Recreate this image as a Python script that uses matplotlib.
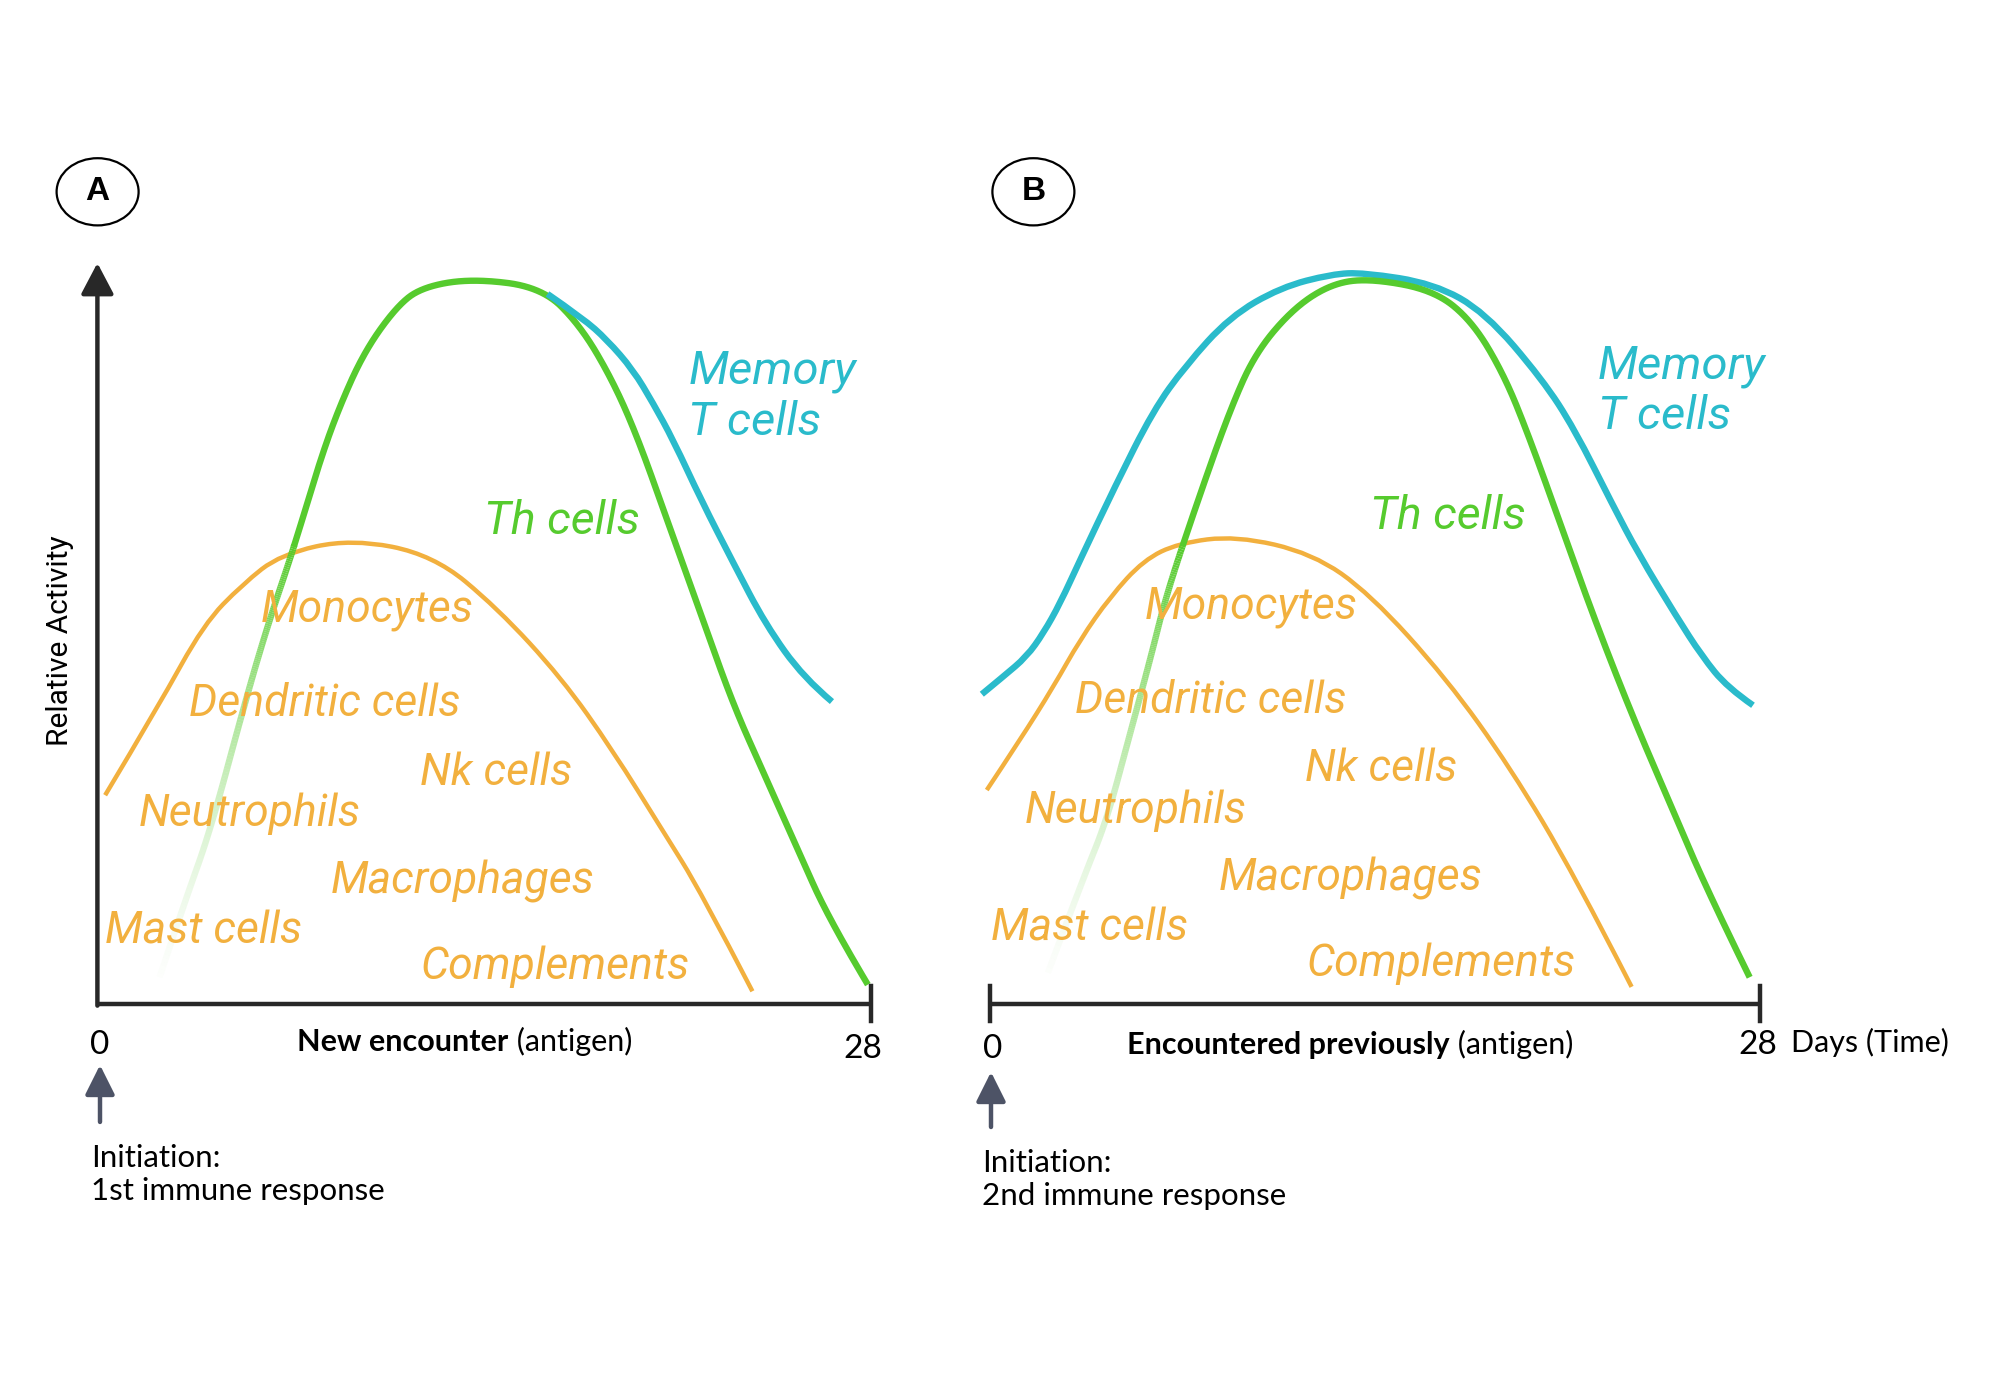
import numpy as np
import matplotlib
matplotlib.use("Agg")
import matplotlib.pyplot as plt
from matplotlib.path import Path
from matplotlib.patches import PathPatch, Ellipse, FancyArrowPatch
from matplotlib.collections import LineCollection
from matplotlib.colors import to_rgba

# ---- data (days 0-28, relative activity 0-100) ----
# panel A: new encounter
innate_a_x = [0.28, 2.23, 3.85, 5.25, 6.64, 9.19, 12.16, 14.48, 16.81, 18.66, 20.47, 21.87, 23.72]
innate_a_y = [28.3, 40.5, 51.5, 56.9, 61.0, 63.1, 60.9, 53.7, 44.2, 34.4, 23.5, 15.1, 1.7]
th_a_x = [2.25, 3.17, 4.09, 5.36, 6.17, 7.10, 8.02, 8.71, 9.64, 10.79, 11.72, 13.57, 16.1,
          17.49, 18.64, 19.57, 20.72, 21.88, 23.03, 24.19, 25.34, 26.5, 27.9]
th_a_y = [3.6, 13.9, 23.5, 41.1, 51.4, 61.7, 73.2, 80.5, 88.3, 94.4, 97.2, 98.4, 97.2,
          92.0, 84.7, 76.8, 64.7, 52.6, 40.5, 30.8, 21.1, 11.4, 2.6]
mem_a_x = [16.3, 17.58, 18.45, 19.4, 20.12, 20.85, 21.87, 23.03, 24.19, 25.58, 26.6]
mem_a_y = [96.3, 93.0, 90.1, 86.0, 81.5, 76.5, 68.3, 59.8, 51.5, 44.2, 41.0]

# panel B: encountered previously
innate_b_x = [-0.11, 1.1, 2.31, 3.28, 4.37, 5.59, 6.86, 8.95, 11.73, 13.82, 16.6, 18.92, 21.24, 23.32]
innate_b_y = [29.0, 35.8, 43.0, 49.4, 55.2, 60.2, 62.5, 63.5, 61.1, 55.6, 44.1, 32.0, 17.5, 2.3]
th_b_x = [2.11, 3.39, 4.25, 5.1, 5.82, 6.43, 7.56, 8.72, 9.65, 11.04, 12.43, 13.82, 16.14, 17.53,
          18.69, 19.61, 20.77, 21.93, 23.32, 24.71, 26.1, 27.61]
th_b_y = [4.2, 17.0, 24.9, 36.7, 46.6, 55.7, 68.3, 80.5, 88.3, 94.4, 97.7, 98.4, 96.8, 92.6,
          85.3, 76.8, 64.7, 52.6, 39.3, 27.2, 15.1, 3.6]
mem_b_x = [-0.29, 0.49, 1.34, 1.95, 2.55, 3.28, 4.55, 5.94, 7.10, 8.72, 10.57, 12.43, 13.59, 16.14,
           18.0, 20.08, 21.24, 22.63, 23.56, 24.94, 25.87, 26.8, 27.73]
mem_b_y = [42.0, 44.4, 47.1, 50.3, 54.3, 60.2, 70.2, 80.5, 86.5, 93.2, 97.2, 99.0, 99.2, 97.7,
           93.8, 84.7, 78.0, 67.7, 61.1, 52.6, 47.2, 42.9, 40.5]

innate_names = ["Monocytes", "Dendritic cells", "Nk cells", "Neutrophils",
                "Macrophages", "Mast cells", "Complements"]
innate_lab_a = [(5.9, 51.8), (3.3, 39.1), (11.7, 29.7), (1.49, 24.1), (8.45, 15.0), (0.28, 8.2), (11.7, 3.3)]
innate_lab_b = [(5.64, 52.3), (3.08, 39.5), (11.46, 30.2), (1.26, 24.5), (8.3, 15.4), (0.05, 8.6), (11.5, 3.8)]
th_lab_a, th_lab_b = (14.0, 63.8), (13.8, 64.4)
mem_lab_a, mem_lab_b = (21.4, 84.1), (22.1, 84.9)

ORANGE = "#F2B03E"
GREEN = "#56CB2E"
BLUE = "#2ABBCB"
AXIS = "#282828"
SLATE = "#4D5366"


def smooth_path(xs, ys):
    # quadratic beziers through the midpoints, so the corners are rounded
    pts = list(zip(xs, ys))
    verts = [pts[0]]
    codes = [Path.MOVETO]
    for i in range(1, len(pts) - 1):
        if i == len(pts) - 2:
            end = pts[-1]
        else:
            end = ((pts[i][0] + pts[i + 1][0]) / 2, (pts[i][1] + pts[i + 1][1]) / 2)
        verts += [pts[i], end]
        codes += [Path.CURVE3, Path.CURVE3]
    return Path(verts, codes)


def draw_curve(ax, xs, ys, color, lw, z):
    p = PathPatch(smooth_path(xs, ys), fill=False, edgecolor=color, lw=lw,
                  capstyle="butt", joinstyle="round", zorder=z, clip_on=False)
    ax.add_patch(p)


def draw_fading(ax, xs, ys, color, lw, z):
    # th cells fade in on the rising side
    path = smooth_path(xs, ys)
    pts = []
    for seg, code in path.iter_bezier():
        pts.append(seg(np.linspace(0, 1, 40)))
    pts = np.vstack(pts)
    segs = np.stack([pts[:-1], pts[1:]], axis=1)
    mid = segs.mean(axis=1)
    peak_x = xs[int(np.argmax(ys))]
    alpha = np.where(mid[:, 0] < peak_x, np.clip(mid[:, 1] / 62.0, 0, 1) ** 1.6, 1.0)
    solid = int(np.argmax(alpha >= 0.999))
    rgba = np.array([to_rgba(color, a) for a in alpha[:solid + 1]])
    lc = LineCollection(segs[:solid + 1], colors=rgba, linewidths=lw, capstyle="butt", zorder=z)
    lc.set_clip_on(False)
    ax.add_collection(lc)
    # the fully opaque part as one line, so no seams
    ax.plot(pts[solid:, 0], pts[solid:, 1], color=color, lw=lw, solid_capstyle="butt",
            solid_joinstyle="round", zorder=z, clip_on=False)


def italic(ax, x, y, s, color, size):
    ax.text(x, y, s, color=color, fontsize=size, family="Roboto", style="italic",
            ha="left", va="baseline", zorder=10)


fig = plt.figure(figsize=(20, 14), dpi=100)
axA = fig.add_axes([0.0487, 0.283, 0.3866, 0.5265])
axB = fig.add_axes([0.4949, 0.283, 0.3853, 0.5265])

panels = [
    (axA, innate_a_x, innate_a_y, th_a_x, th_a_y, mem_a_x, mem_a_y, innate_lab_a, th_lab_a, mem_lab_a, 6),
    (axB, innate_b_x, innate_b_y, th_b_x, th_b_y, mem_b_x, mem_b_y, innate_lab_b, th_lab_b, mem_lab_b, 4),
]

for ax, ix, iy, tx, ty, mx, my, ilab, tlab, mlab, zmem in panels:
    ax.set_xlim(0, 28)
    ax.set_ylim(0, 100)
    ax.axis("off")
    draw_curve(ax, ix, iy, ORANGE, 3.2, 3)
    draw_curve(ax, mx, my, BLUE, 4.6, zmem)
    draw_fading(ax, tx, ty, GREEN, 4.6, 5)
    for name, (lx, ly) in zip(innate_names, ilab):
        italic(ax, lx, ly, name, ORANGE, 32)
    italic(ax, tlab[0], tlab[1], "Th cells", GREEN, 33.5)
    italic(ax, mlab[0], mlab[1], "Memory", BLUE, 34)
    italic(ax, mlab[0], mlab[1] - 6.9, "T cells", BLUE, 34)
    # x axis with end tick
    ax.plot([0, 28], [0, 0], color=AXIS, lw=3.2, clip_on=False, solid_capstyle="butt", zorder=7)
    ax.plot([28, 28], [-2.35, 2.35], color=AXIS, lw=3.2, clip_on=False, zorder=7)

# y axis arrow only on panel A
axA.add_patch(FancyArrowPatch((0, -0.25), (0, 100.5), arrowstyle="-|>,head_length=0.95,head_width=0.5",
                              mutation_scale=20, color=AXIS, lw=3.2, shrinkA=0, shrinkB=0,
                              clip_on=False, zorder=7))
axB.plot([0, 0], [-2.35, 2.35], color=AXIS, lw=3.2, clip_on=False, zorder=7)

# tick numbers
lato = dict(family="Lato", color="black")
axA.text(0.09, -5.6, "0", fontsize=24, ha="center", va="center", **lato)
axA.text(27.7, -6.1, "28", fontsize=24, ha="center", va="center", **lato)
axB.text(0.09, -6.1, "0", fontsize=24, ha="center", va="center", **lato)
axB.text(27.9, -5.6, "28", fontsize=24, ha="center", va="center", **lato)
fig.text(0.8955, 0.2555, "Days (Time)", fontsize=22, ha="left", va="center", **lato)

# axis titles with bold part
for x0, y0, bold in [(0.1487, 0.2555, "New encounter"), (0.5635, 0.2537, "Encountered previously")]:
    t = fig.text(x0, y0, bold, fontsize=22, weight="bold", ha="left", va="center", **lato)
    plt.annotate(" (antigen)", xy=(1, 0), xycoords=t, fontsize=22, ha="left", va="bottom",
                 annotation_clip=False, **lato)

fig.text(0.0301, 0.5421, "Relative Activity", rotation=90, fontsize=21.5, family="Roboto",
         ha="center", va="center")

# initiation arrows
for x, y_tail, y_tip, y_txt, label in [(0.05, 0.1986, 0.2393, 0.1731, "1st immune response"),
                                      (0.4955, 0.195, 0.2343, 0.1694, "2nd immune response")]:
    fig.add_artist(FancyArrowPatch((x, y_tail), (x, y_tip), transform=fig.transFigure,
                                   arrowstyle="-|>,head_length=0.9,head_width=0.45",
                                   mutation_scale=20, color=SLATE, lw=3.2,
                                   shrinkA=0, shrinkB=0))
    fig.text(x - 0.0045, y_txt, "Initiation:", fontsize=22.5, ha="left", va="center", **lato)
    fig.text(x - 0.0045, y_txt - 0.0238, label, fontsize=22.5, ha="left", va="center", **lato)

# panel badges
for cx, letter in [(0.0488, "A"), (0.5167, "B")]:
    fig.add_artist(Ellipse((cx, 0.863), 0.041, 0.048, transform=fig.transFigure,
                           fill=False, edgecolor="black", lw=1.6))
    fig.text(cx, 0.863, letter, fontsize=24, weight="bold", family="Liberation Sans",
             ha="center", va="center")

fig.savefig("out.png", dpi=100)
